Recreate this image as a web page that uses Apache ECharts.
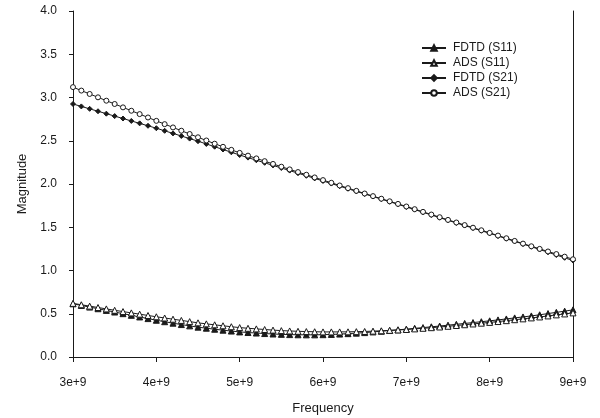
<!DOCTYPE html>
<html>
<head>
<meta charset="utf-8">
<script src="https://cdn.jsdelivr.net/npm/echarts@6/dist/echarts.min.js"></script>
<style>
  html, body { margin: 0; padding: 0; background: #fff; }
  #chart { width: 600px; height: 418px; }
</style>
</head>
<body>
<div id="chart"></div>
<script>
// Sweep frequencies, GHz (3.0 to 9.0 in 0.1 GHz steps)
const freqGHz = [
  3.0, 3.1, 3.2, 3.3, 3.4, 3.5, 3.6, 3.7, 3.8, 3.9,
  4.0, 4.1, 4.2, 4.3, 4.4, 4.5, 4.6, 4.7, 4.8, 4.9,
  5.0, 5.1, 5.2, 5.3, 5.4, 5.5, 5.6, 5.7, 5.8, 5.9,
  6.0, 6.1, 6.2, 6.3, 6.4, 6.5, 6.6, 6.7, 6.8, 6.9,
  7.0, 7.1, 7.2, 7.3, 7.4, 7.5, 7.6, 7.7, 7.8, 7.9,
  8.0, 8.1, 8.2, 8.3, 8.4, 8.5, 8.6, 8.7, 8.8, 8.9,
  9.0
];

const fdtdS11 = [
  0.615, 0.596, 0.577, 0.558, 0.539, 0.520, 0.501, 0.482, 0.463, 0.444,
  0.425, 0.408, 0.391, 0.375, 0.360, 0.345, 0.333, 0.321, 0.310, 0.300,
  0.290, 0.283, 0.277, 0.271, 0.266, 0.262, 0.259, 0.257, 0.256, 0.256,
  0.258, 0.261, 0.265, 0.270, 0.276, 0.282, 0.290, 0.298, 0.306, 0.314,
  0.322, 0.331, 0.340, 0.349, 0.358, 0.368, 0.378, 0.388, 0.398, 0.408,
  0.418, 0.429, 0.440, 0.452, 0.463, 0.475, 0.488, 0.502, 0.516, 0.530,
  0.545
];

const adsS11 = [
  0.620, 0.604, 0.588, 0.572, 0.556, 0.540, 0.525, 0.510, 0.495, 0.480,
  0.465, 0.451, 0.437, 0.423, 0.409, 0.395, 0.383, 0.372, 0.361, 0.350,
  0.340, 0.332, 0.325, 0.318, 0.311, 0.305, 0.301, 0.297, 0.294, 0.292,
  0.290, 0.290, 0.290, 0.291, 0.293, 0.295, 0.299, 0.303, 0.308, 0.313,
  0.318, 0.325, 0.332, 0.339, 0.347, 0.355, 0.364, 0.373, 0.382, 0.391,
  0.400, 0.410, 0.420, 0.431, 0.441, 0.452, 0.463, 0.475, 0.487, 0.498,
  0.510
];

const fdtdS21 = [
  2.925, 2.897, 2.869, 2.841, 2.813, 2.785, 2.757, 2.729, 2.701, 2.673,
  2.645, 2.615, 2.585, 2.555, 2.525, 2.495, 2.463, 2.431, 2.399, 2.367,
  2.335, 2.305, 2.275, 2.245, 2.215, 2.185, 2.155, 2.125, 2.095, 2.065,
  2.035, 2.005, 1.975, 1.945, 1.915, 1.885, 1.855, 1.825, 1.795, 1.765,
  1.735, 1.704, 1.673, 1.642, 1.611, 1.580, 1.550, 1.520, 1.490, 1.460,
  1.430, 1.399, 1.368, 1.337, 1.306, 1.275, 1.243, 1.211, 1.179, 1.147,
  1.115
];

const adsS21 = [
  3.120, 3.080, 3.041, 3.002, 2.963, 2.925, 2.886, 2.847, 2.808, 2.769,
  2.730, 2.692, 2.654, 2.616, 2.578, 2.540, 2.503, 2.466, 2.430, 2.395,
  2.360, 2.328, 2.296, 2.264, 2.232, 2.200, 2.169, 2.138, 2.107, 2.076,
  2.045, 2.014, 1.983, 1.952, 1.921, 1.890, 1.860, 1.830, 1.800, 1.770,
  1.740, 1.709, 1.678, 1.647, 1.616, 1.585, 1.555, 1.525, 1.495, 1.465,
  1.435, 1.404, 1.373, 1.342, 1.311, 1.280, 1.250, 1.220, 1.190, 1.160,
  1.130
];

const seriesNames = ['FDTD (S11)', 'ADS (S11)', 'FDTD (S21)', 'ADS (S21)'];

const FONT = '"Liberation Sans", Arial, sans-serif';
const INK = '#1a1a1a';

function pairs(values) {
  return freqGHz.map((f, i) => [f * 1e9, values[i]]);
}

function lineSeries(name, values, symbol, size, filled, z) {
  return {
    name: name,
    type: 'line',
    data: pairs(values),
    symbol: symbol,
    symbolSize: size,
    showSymbol: true,
    z: z,
    lineStyle: { color: INK, width: 1 },
    itemStyle: {
      color: filled ? INK : '#ffffff',
      borderColor: INK,
      borderWidth: 1
    },
    emphasis: { disabled: true }
  };
}

const chart = echarts.init(document.getElementById('chart'), null, { renderer: 'canvas' });

chart.setOption({
  animation: false,
  backgroundColor: '#ffffff',
  textStyle: { fontFamily: FONT, color: INK },
  grid: {
    left: 73, right: 27, top: 11, bottom: 61,
    containLabel: false,
    outerBoundsMode: 'none'
  },
  legend: {
    orient: 'vertical',
    left: 416,
    top: 37,
    itemWidth: 24,
    itemHeight: 7,
    itemGap: 3,
    data: seriesNames,
    textStyle: { fontFamily: FONT, fontSize: 12, color: INK, padding: [0, 0, 0, 2] }
  },
  xAxis: {
    type: 'value',
    min: 3e9,
    max: 9e9,
    interval: 1e9,
    name: 'Frequency',
    nameLocation: 'middle',
    nameGap: 45,
    nameTextStyle: { fontFamily: FONT, fontSize: 13, color: INK },
    axisLine: { show: true, lineStyle: { color: INK, width: 1 } },
    axisTick: { show: true, inside: false, length: 5, lineStyle: { color: INK } },
    axisLabel: {
      margin: 20,
      fontFamily: FONT,
      fontSize: 12,
      color: INK,
      formatter: v => Math.round(v / 1e9) + 'e+9'
    },
    splitLine: { show: false }
  },
  yAxis: [
    {
      type: 'value',
      min: 0,
      max: 4,
      interval: 0.5,
      name: 'Magnitude',
      nameLocation: 'middle',
      nameGap: 44,
      nameTextStyle: { fontFamily: FONT, fontSize: 13, color: INK },
      axisLine: { show: true, lineStyle: { color: INK, width: 1 } },
      axisTick: { show: true, inside: false, length: 4, lineStyle: { color: INK } },
      axisLabel: {
        margin: 16,
        fontFamily: FONT,
        fontSize: 12,
        color: INK,
        formatter: v => v.toFixed(1)
      },
      splitLine: { show: false }
    },
    {
      type: 'value',
      position: 'right',
      min: 0,
      max: 4,
      interval: 0.5,
      axisLine: { show: true, lineStyle: { color: INK, width: 1 } },
      axisTick: { show: false },
      axisLabel: { show: false },
      splitLine: { show: false }
    }
  ],
  series: [
    lineSeries(seriesNames[0], fdtdS11, 'triangle', 6, true, 2),
    lineSeries(seriesNames[1], adsS11, 'triangle', 6, false, 3),
    lineSeries(seriesNames[2], fdtdS21, 'diamond', 5, true, 2),
    lineSeries(seriesNames[3], adsS21, 'circle', 5, false, 3)
  ]
});
</script>
</body>
</html>
